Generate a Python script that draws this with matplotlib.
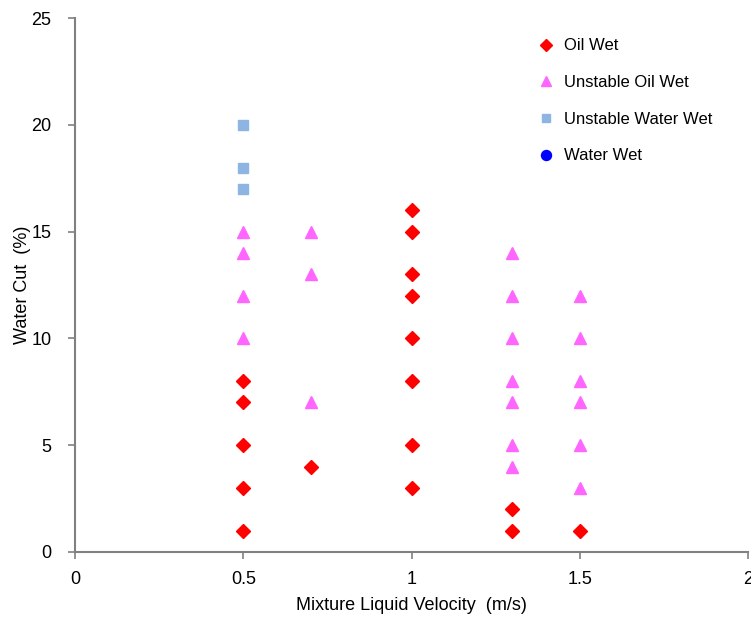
import matplotlib.pyplot as plt
import numpy as np

plt.rcParams['font.family'] = ['Liberation Sans', 'DejaVu Sans']

# Oil Wet
oil_x = [0.5, 0.5, 0.5, 0.5, 0.5, 0.7, 1.0, 1.0, 1.0, 1.0, 1.0, 1.0, 1.0, 1.0, 1.3, 1.3, 1.5]
oil_y = [1, 3, 5, 7, 8, 4, 3, 5, 8, 10, 12, 13, 15, 16, 1, 2, 1]

# Unstable Oil Wet
uow_x = [0.5, 0.5, 0.5, 0.5, 0.7, 0.7, 0.7,
         1.3, 1.3, 1.3, 1.3, 1.3, 1.3, 1.3,
         1.5, 1.5, 1.5, 1.5, 1.5, 1.5]
uow_y = [10, 12, 14, 15, 7, 13, 15,
         4, 5, 7, 8, 10, 12, 14,
         3, 5, 7, 8, 10, 12]

# Unstable Water Wet
uww_x = [0.5, 0.5, 0.5]
uww_y = [17, 18, 20]

# Water Wet (no points)
ww_x = []
ww_y = []

fig = plt.figure(figsize=(7.51, 6.23), dpi=100)
ax = fig.add_axes([0.1, 0.114, 0.896, 0.857])

ax.plot(oil_x, oil_y, 'D', color='#ff0000', ms=7, mec='#ff0000', label='Oil Wet')
ax.plot(uow_x, uow_y, '^', color='#ff66ff', ms=8, mec='#ff66ff', label='Unstable Oil Wet')
ax.plot(uww_x, uww_y, 's', color='#8db4e2', ms=7, mec='#8db4e2', label='Unstable Water Wet')
ax.plot(ww_x, ww_y, 'o', color='#0000ff', ms=8, label='Water Wet')

ax.set_xlim(0, 2)
ax.set_ylim(0, 25)
ax.set_xticks([0, 0.5, 1, 1.5, 2])
ax.set_xticklabels(['0', '0.5', '1', '1.5', '2'])
ax.set_yticks([0, 5, 10, 15, 20, 25])

for s in ['top', 'right']:
    ax.spines[s].set_visible(False)
for s in ['left', 'bottom']:
    ax.spines[s].set_color('#808080')
    ax.spines[s].set_linewidth(1.5)
ax.tick_params(colors='#808080', length=5, width=1.2, labelsize=13, labelcolor='black')
ax.tick_params(axis='x', pad=9)
ax.tick_params(axis='y', pad=12)

ax.set_xlabel('Mixture Liquid Velocity  (m/s)', fontsize=13, labelpad=6)
ax.set_ylabel('Water Cut  (%)', fontsize=13, labelpad=0)

ax.legend(loc='upper left', bbox_to_anchor=(0.665, 0.99), frameon=False, fontsize=12,
          labelspacing=1.3, handlelength=1.0, handletextpad=0.6, markerscale=0.9)

fig.savefig('out.png', dpi=100)
